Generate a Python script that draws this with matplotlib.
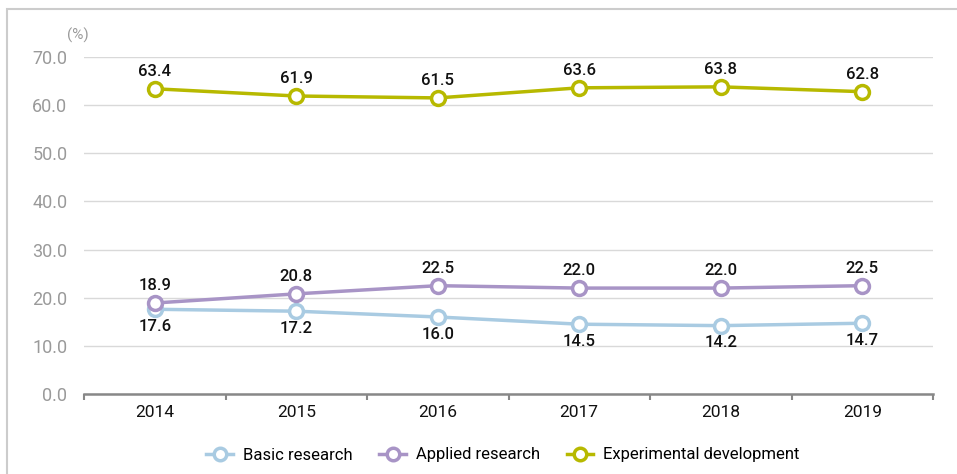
import matplotlib.pyplot as plt
from matplotlib.patches import Rectangle
from matplotlib.lines import Line2D

plt.rcParams['font.family'] = ['Roboto', 'DejaVu Sans']

years = ["2014", "2015", "2016", "2017", "2018", "2019"]
basic = [17.6, 17.2, 16.0, 14.5, 14.2, 14.7]
applied = [18.9, 20.8, 22.5, 22.0, 22.0, 22.5]
experimental = [63.4, 61.9, 61.5, 63.6, 63.8, 62.8]

c_basic = "#a9cbe2"
c_applied = "#a894c6"
c_exp = "#b7b900"

fig = plt.figure(figsize=(9.57, 4.74), dpi=100)
ax = fig.add_axes([84/957, 1-394/474, (933-84)/957, (394-57)/474])

# outer frame (left and top only visible)
fig.patches.append(Rectangle((7/957, -0.1), 1.2, (465/474) + 0.1,
                             transform=fig.transFigure, fill=False,
                             edgecolor="#cccccc", linewidth=1.5))

x = list(range(len(years)))
series = [(basic, c_basic, "Basic research", -1),
          (applied, c_applied, "Applied research", 1),
          (experimental, c_exp, "Experimental development", 1)]

for vals, col, lab, side in series:
    ax.plot(x, vals, color=col, linewidth=2.5, marker="o", markersize=10,
            markerfacecolor="white", markeredgecolor=col, markeredgewidth=2.5,
            label=lab, zorder=3)
    for xi, v in zip(x, vals):
        ax.annotate(f"{v:.1f}", (xi, v), xytext=(0, 7*side), textcoords="offset points",
                    ha="center", va="bottom" if side > 0 else "top",
                    fontsize=12, color="#111111", fontweight="medium")

ax.set_xlim(-0.5, len(years) - 0.5)
ax.set_ylim(0, 70)
ax.set_yticks([0, 10, 20, 30, 40, 50, 60, 70])
ax.set_yticklabels([f"{v:.1f}" for v in range(0, 71, 10)])
ax.set_xticks(x)
ax.set_xticklabels(years)
ax.set_xticks([i - 0.5 for i in range(len(years) + 1)], minor=True)

ax.grid(axis="y", color="#d9d9d9", linewidth=1)
ax.set_axisbelow(True)
for s in ["top", "right", "left"]:
    ax.spines[s].set_visible(False)
ax.spines["bottom"].set_color("#888888")
ax.spines["bottom"].set_linewidth(1.8)
ax.spines["bottom"].set_zorder(4)

ax.tick_params(axis="y", length=0, labelsize=13, labelcolor="#9a9a9a", pad=12)
ax.tick_params(axis="x", which="major", length=0, labelsize=12.5, labelcolor="#111111", pad=8)
ax.tick_params(axis="x", which="minor", length=4, width=1.5, color="#888888", direction="out")

fig.text(78/957, 1-35/474, "(%)", fontsize=11, color="#9a9a9a", ha="center", va="center")

handles = [Line2D([], [], color=col, linewidth=2.5, marker="o", markersize=9,
                  markerfacecolor="white", markeredgecolor=col, markeredgewidth=2.5)
           for _, col, _, _ in series]
fig.legend(handles, [s[2] for s in series], loc="center", bbox_to_anchor=(503/957, 1-455/474),
           ncol=3, frameon=False, fontsize=12, handlelength=1.6, columnspacing=1.6,
           handletextpad=0.6)

fig.savefig("out.png", dpi=100)
